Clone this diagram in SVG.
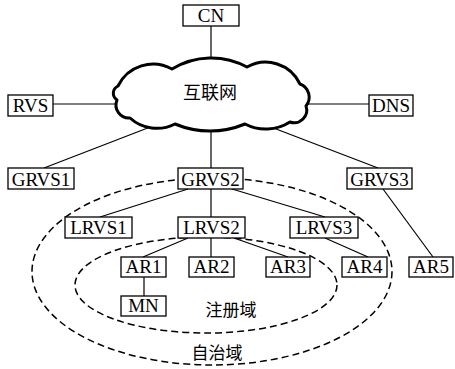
<svg xmlns="http://www.w3.org/2000/svg" width="455" height="369" viewBox="0 0 455 369">
<style>
.box{fill:#fff;stroke:#000;stroke-width:1.3}
.t{font-family:"Liberation Serif","Noto Sans CJK SC",serif;font-size:19px;text-anchor:middle;fill:#000}
.c{font-family:"Liberation Serif","Noto Sans CJK SC",serif;font-size:17px;text-anchor:middle;fill:#000}
.ln{stroke:#000;stroke-width:1.2;fill:none}
.dash{fill:none;stroke:#000;stroke-width:1.5;stroke-dasharray:7 4}
</style>
<rect width="455" height="369" fill="#fff"/>
<g id="connectors">
<line class="ln" x1="211" y1="26" x2="211" y2="62"/>
<line class="ln" x1="53" y1="104" x2="120" y2="104"/>
<line class="ln" x1="303" y1="104" x2="369" y2="104"/>
<line class="ln" x1="158" y1="124" x2="44" y2="168"/>
<line class="ln" x1="211" y1="128" x2="211" y2="168"/>
<line class="ln" x1="263" y1="124" x2="378" y2="168"/>
<line class="ln" x1="188" y1="189" x2="100" y2="217"/>
<line class="ln" x1="211" y1="189" x2="211" y2="217"/>
<line class="ln" x1="232" y1="189" x2="325" y2="217"/>
<line class="ln" x1="383" y1="189" x2="433" y2="257"/>
<line class="ln" x1="188" y1="238" x2="143" y2="257"/>
<line class="ln" x1="211" y1="238" x2="211" y2="257"/>
<line class="ln" x1="234" y1="238" x2="288" y2="257"/>
<line class="ln" x1="325" y1="238" x2="368" y2="257"/>
<line class="ln" x1="144" y1="277" x2="144" y2="296"/>
</g>
<g id="domains">
<ellipse class="dash" cx="212" cy="271.5" rx="180" ry="93.5"/>
<ellipse class="dash" cx="206" cy="285" rx="131" ry="48"/>
<text class="c" x="217" y="359">自治域</text>
<text class="c" x="231" y="316">注册域</text>
</g>
<g id="internet">
<path d="M118,86 A39,39 0 0 1 172,69 A75,75 0 0 1 247,67 A38,38 0 0 1 300,84 A14,14 0 0 1 306,106 A12.6,12.6 0 0 1 290,122 A45,45 0 0 1 245,124 A91,91 0 0 1 175,124 A40,40 0 0 1 130,118 A13,13 0 0 1 117,100 A8,8 0 0 1 118,86 Z" fill="#fff" stroke="#000" stroke-width="3" stroke-linejoin="round"/>
<text class="c" x="210" y="99" style="font-size:18px">互联网</text>
</g>
<g id="CN"><rect class="box" x="183" y="5" width="56" height="21"/><text class="t" x="211" y="22">CN</text></g>
<g id="RVS"><rect class="box" x="8" y="95" width="45" height="21"/><text class="t" x="30.5" y="112">RVS</text></g>
<g id="DNS"><rect class="box" x="369" y="95" width="44" height="21"/><text class="t" x="391" y="112">DNS</text></g>
<g id="GRVS1"><rect class="box" x="8" y="168" width="66" height="21"/><text class="t" x="41" y="186">GRVS1</text></g>
<g id="GRVS2"><rect class="box" x="178" y="168" width="65" height="21"/><text class="t" x="210.5" y="186">GRVS2</text></g>
<g id="GRVS3"><rect class="box" x="347" y="168" width="65" height="21"/><text class="t" x="379.5" y="186">GRVS3</text></g>
<g id="LRVS1"><rect class="box" x="65" y="217" width="67" height="21"/><text class="t" x="98.5" y="234">LRVS1</text></g>
<g id="LRVS2"><rect class="box" x="178" y="217" width="67" height="21"/><text class="t" x="211.5" y="234">LRVS2</text></g>
<g id="LRVS3"><rect class="box" x="290" y="217" width="68" height="21"/><text class="t" x="324" y="234">LRVS3</text></g>
<g id="AR1"><rect class="box" x="121" y="257" width="45" height="20"/><text class="t" x="143.5" y="273">AR1</text></g>
<g id="AR2"><rect class="box" x="189" y="257" width="45" height="20"/><text class="t" x="211.5" y="273">AR2</text></g>
<g id="AR3"><rect class="box" x="266" y="257" width="44" height="20"/><text class="t" x="288" y="273">AR3</text></g>
<g id="AR4"><rect class="box" x="342" y="257" width="45" height="20"/><text class="t" x="364.5" y="273">AR4</text></g>
<g id="AR5"><rect class="box" x="409" y="257" width="44" height="20"/><text class="t" x="431" y="273">AR5</text></g>
<g id="MN"><rect class="box" x="121" y="296" width="45" height="20"/><text class="t" x="143.5" y="312">MN</text></g>
</svg>
